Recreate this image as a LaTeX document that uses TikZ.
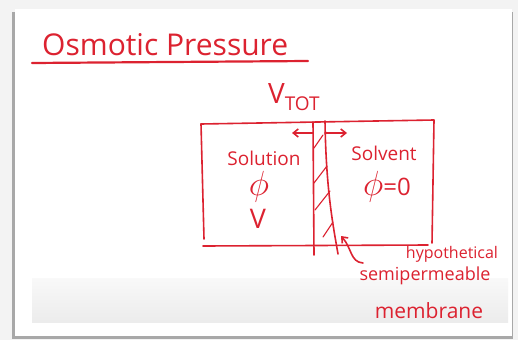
\documentclass[tikz,border=0pt]{standalone}
\usepackage{amsmath}
\usepackage{fontspec}
\setmainfont{Open Sans}
\usepackage{graphicx}
\usepackage{tikz}
\usetikzlibrary{calc,arrows.meta,positioning}
\definecolor{InkRed}{HTML}{DC2230}
\definecolor{PageBG}{HTML}{F3F3F3}
\definecolor{ShadowCol}{HTML}{A8A8A8}
\newcommand{\fsz}[1]{\fontsize{#1}{#1}\selectfont}
\newcommand{\bigphi}{\scalebox{1.4}{$\phi$}}

\begin{document}
\begin{tikzpicture}[x=1pt,y=-1pt,>={Straight Barb[length=5pt,width=8pt]}]
  \tikzstyle{ink}=[draw=InkRed, line width=1.6pt, line cap=round, line join=round]
  \tikzstyle{hatch}=[draw=InkRed, line width=1.1pt, line cap=round]
  \tikzstyle{inktext}=[text=InkRed, inner sep=0pt]
  \useasboundingbox (0,0) rectangle (518,340);
  % board and its shadow
  \fill[PageBG] (0,0) rectangle (518,340);
  \fill[ShadowCol] (12,12) rectangle (513,339);
  \fill[white] (15,9) rectangle (512,336);
  \shade[top color=gray!5, bottom color=gray!15] (32,278) rectangle (508,322);
  % title
  \node[inktext, font=\fsz{30}, anchor=base west] (title) at (42,55) {Osmotic\ Pressure};
  \draw[ink, line width=2.2pt] (32,63) -- (308,61);
  % total volume
  \node[inktext, font=\fsz{28}, anchor=base west] (vtot) at (268,103)
       {V\raisebox{-7pt}{\fsz{19}TOT}};
  % container
  \draw[ink] (201,124) -- (204,239);
  \draw[ink] (201,124) -- (434,120) -- (432,243);
  \draw[ink] (203,246) -- (428,245);
  % membrane
  \coordinate (mtopl) at (313,122);
  \coordinate (mtopr) at (325,121);
  \draw[ink] (mtopl) -- (314,255);
  \draw[ink] (mtopr) .. controls (326,190) and (333,225) .. (338,254);
  \draw[hatch] (314,148) -- (323,135);
  \draw[hatch] (314,183) -- (327,166);
  \draw[hatch] (315,210) -- (330,191);
  \draw[hatch] (323,237) -- (333,222);
  % arrows on the membrane
  \draw[ink, ->] ($(mtopl)+(0,11)$) -- (292,133);
  \draw[ink, ->] ($(mtopr)+(0,12)$) -- (347,133);
  % left side
  \node[inktext, font=\fsz{19}] (soln) at (264,158) {Solution};
  \node[inktext, font=\fsz{24}] (phil) at (259,187) {\bigphi};
  \node[inktext, font=\fsz{27}] (vol) at (258,219) {V};
  % right side
  \node[inktext, font=\fsz{19}] (solv) at (384,153) {Solvent};
  \node[inktext, font=\fsz{24}] (phir) at (387,187) {\bigphi=0};
  % label of the membrane
  \node[inktext, font=\fsz{16}] (hypo) at (452,254) {hypothetical};
  \node[inktext, font=\fsz{18}] (semi) at (425,276) {semipermeable};
  \node[inktext, font=\fsz{21}] (memb) at (429,311) {membrane};
  \coordinate (ptail) at (363,263);
  \coordinate (ptip) at (341,236);
  \draw[ink, ->] (ptail) .. controls (350,262) and (352,248) .. (ptip);
\end{tikzpicture}
\end{document}
